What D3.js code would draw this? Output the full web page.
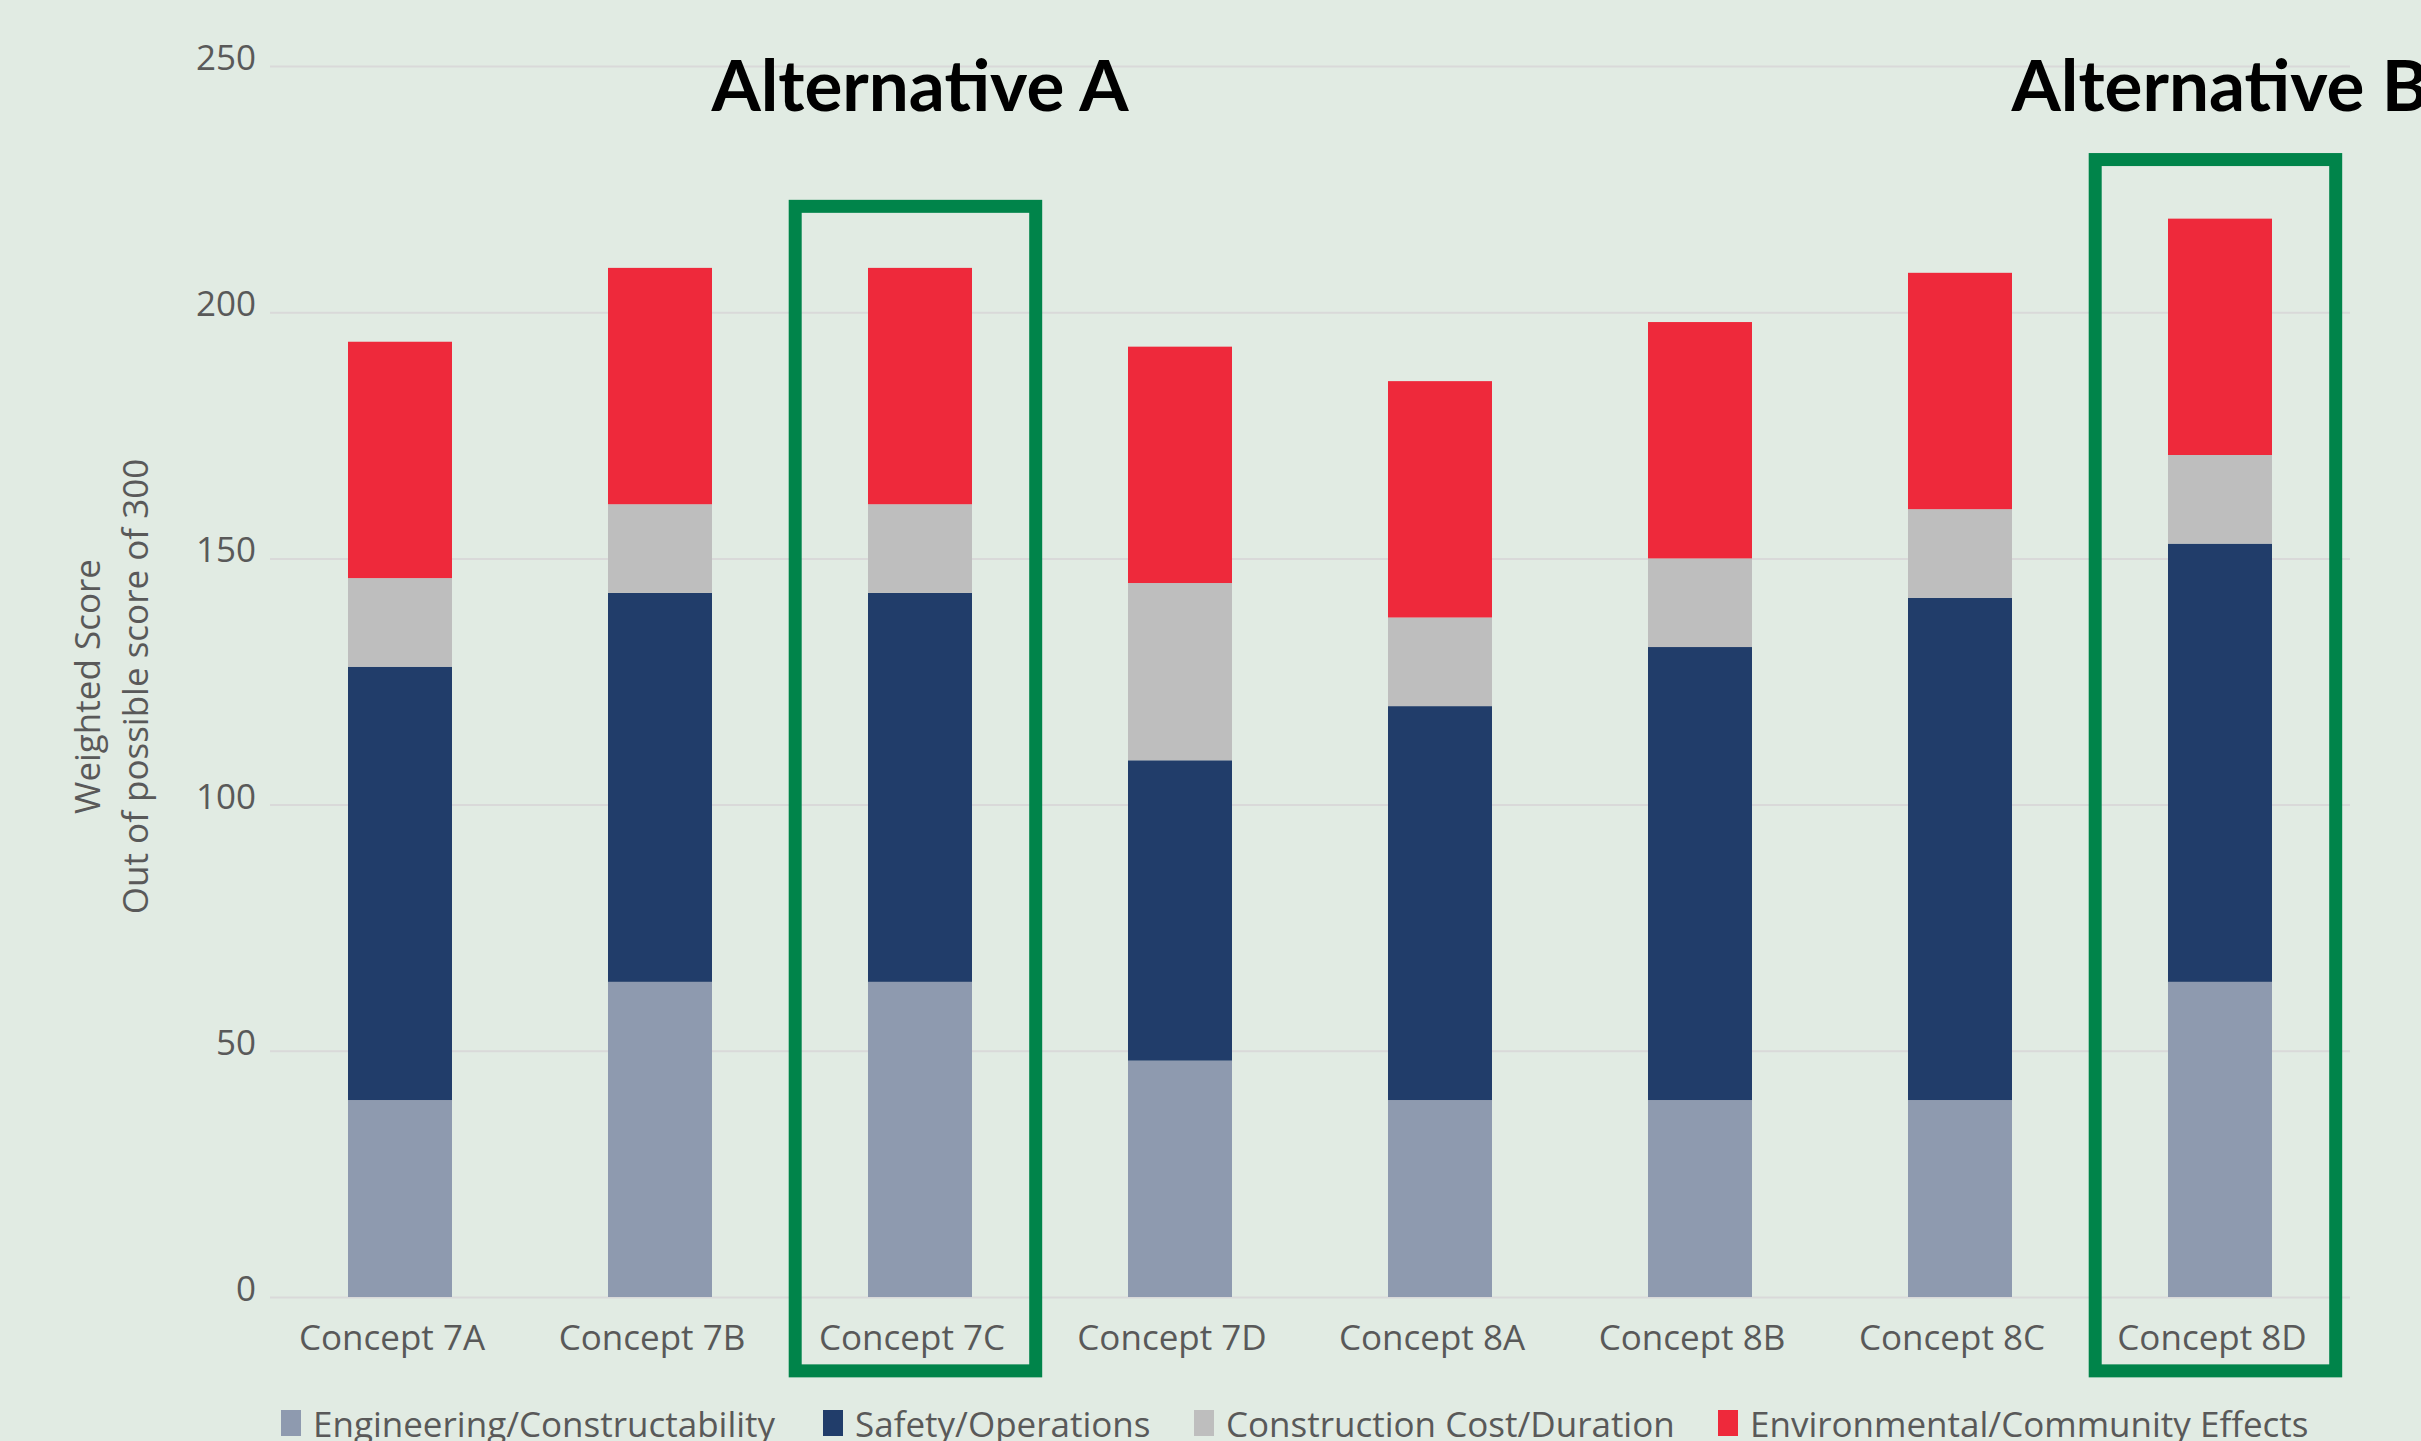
<!DOCTYPE html>
<html lang="en">
<head>
  <meta charset="UTF-8" />
  <title>Weighted Score by Concept</title>
  <script src="https://d3js.org/d3.v7.min.js"></script>
  <style>
    body { margin: 0; background: #e1ebe3; }
    svg { display: block; }
    text { font-family: "Open Sans", "Noto Sans", sans-serif; fill: #595959; }
    .alt { font-family: Lato, "Open Sans", sans-serif; font-weight: 700; fill: #000; }
    .grid line { stroke: #d9d9d9; stroke-width: 2px; }
  </style>
</head>
<body>
  <svg></svg>

  <script>
    const width = 2421;
    const height = 1441;

    // data
    const concepts = ["Concept 7A", "Concept 7B", "Concept 7C", "Concept 7D",
                      "Concept 8A", "Concept 8B", "Concept 8C", "Concept 8D"];
    const seriesNames = ["Engineering/Constructability", "Safety/Operations",
                         "Construction Cost/Duration", "Environmental/Community Effects"];
    const engineering = [40, 64, 64, 48, 40, 40, 40, 64];
    const safety      = [88, 79, 79, 61, 80, 92, 102, 89];
    const cost        = [18, 18, 18, 36, 18, 18, 18, 18];
    const environment = [48, 48, 48, 48, 48, 48, 48, 48];
    const yTicks = [0, 50, 100, 150, 200, 250];

    // highlighted alternatives (box top in score units)
    const altLabels = ["Alternative A", "Alternative B"];
    const altConcepts = ["Concept 7C", "Concept 8D"];
    const altBoxTop = [221.5, 231];

    const colors = ["#8e9aaf", "#213d6a", "#bebebe", "#ee293b"];

    const rows = concepts.map((c, i) => ({
      concept: c,
      [seriesNames[0]]: engineering[i],
      [seriesNames[1]]: safety[i],
      [seriesNames[2]]: cost[i],
      [seriesNames[3]]: environment[i]
    }));

    const svg = d3.select("svg").attr("width", width).attr("height", height);

    const margin = { left: 270, right: 71, top: 66, bottom: 144 };

    const x = d3.scaleBand()
      .domain(concepts)
      .range([margin.left, width - margin.right])
      .paddingInner(0.6)
      .paddingOuter(0.3);

    const y = d3.scaleLinear()
      .domain([0, 250])
      .range([height - margin.bottom, margin.top]);

    // gridlines
    svg.append("g")
      .attr("class", "grid")
      .attr("transform", `translate(${margin.left},0)`)
      .call(d3.axisLeft(y).tickValues(yTicks).tickSize(-(width - margin.left - margin.right)).tickFormat(""))
      .call(g => g.select(".domain").remove());

    // y tick labels
    svg.append("g")
      .attr("transform", `translate(${margin.left},0)`)
      .call(d3.axisLeft(y).tickValues(yTicks).tickSize(0).tickPadding(14))
      .call(g => g.select(".domain").remove())
      .call(g => g.selectAll("text")
        .attr("font-size", 35)
        .attr("dy", "0.1em")
        .style("font-family", '"Open Sans", sans-serif')
        .attr("fill", "#595959"));

    // stacked bars
    const stack = d3.stack().keys(seriesNames)(rows);

    svg.append("g")
      .selectAll("g")
      .data(stack)
      .join("g")
      .attr("fill", (d, i) => colors[i])
      .selectAll("rect")
      .data(d => d)
      .join("rect")
      .attr("x", d => x(d.data.concept))
      .attr("width", x.bandwidth())
      .attr("y", d => y(d[1]))
      .attr("height", d => y(d[0]) - y(d[1]));

    // category labels
    svg.append("g")
      .attr("transform", `translate(-8,${y(0)})`)
      .call(d3.axisBottom(x).tickSize(0).tickPadding(0))
      .call(g => g.select(".domain").remove())
      .call(g => g.selectAll("text")
        .attr("y", 53)
        .attr("dy", 0)
        .attr("font-size", 35)
        .style("font-family", '"Open Sans", sans-serif')
        .attr("fill", "#595959"));

    // highlight boxes and titles
    altConcepts.forEach((c, i) => {
      const cx = x(c) + x.bandwidth() / 2;
      const x0 = cx - 0.48 * x.step();
      const x1 = cx + 0.445 * x.step();
      svg.append("rect")
        .attr("x", x0)
        .attr("y", y(altBoxTop[i]))
        .attr("width", x1 - x0)
        .attr("height", y(-15) - y(altBoxTop[i]))
        .attr("fill", "none")
        .attr("stroke", "#00844a")
        .attr("stroke-width", 13);

      svg.append("text")
        .attr("class", "alt")
        .attr("x", cx)
        .attr("y", 111)
        .attr("text-anchor", "middle")
        .attr("font-size", 71)
        .text(altLabels[i]);
    });

    // y axis title
    const yTitle = svg.append("g")
      .attr("transform", `translate(0,${(margin.top + height - margin.bottom) / 2 + 5}) rotate(-90)`);
    yTitle.append("text")
      .attr("x", 0).attr("y", 100)
      .attr("text-anchor", "middle")
      .attr("font-size", 35)
      .text("Weighted Score");
    yTitle.append("text")
      .attr("x", 0).attr("y", 148)
      .attr("text-anchor", "middle")
      .attr("font-size", 35)
      .text("Out of possible score of 300");

    // legend
    const legendX = [281, 823, 1194, 1718];
    const legend = svg.append("g")
      .selectAll("g")
      .data(seriesNames)
      .join("g")
      .attr("transform", (d, i) => `translate(${legendX[i]},1410)`);

    legend.append("rect")
      .attr("width", 20)
      .attr("height", 26)
      .attr("fill", (d, i) => colors[i]);

    legend.append("text")
      .attr("x", 32)
      .attr("y", 27)
      .attr("font-size", 35)
      .text(d => d);
  </script>
</body>
</html>
